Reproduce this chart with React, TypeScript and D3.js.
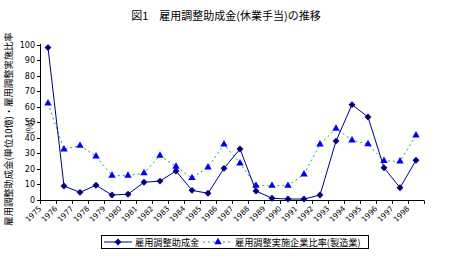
import React from "react";
import * as d3 from "d3";

const years = ["1975","1976","1977","1978","1979","1980","1981","1982","1983","1984","1985","1986","1987","1988","1989","1990","1991","1992","1993","1994","1995","1996","1997","1998"];
const subsidy = [98, 8.7, 4.6, 9.2, 2.9, 3.4, 11.1, 11.9, 18.4, 5.9, 4.0, 20.1, 32.6, 5.5, 0.8, 0.3, 0.3, 2.9, 37.7, 61.2, 53.2, 20.5, 7.6, 25.3];
const ratio = [62, 32.4, 34.7, 27.9, 15.4, 15.4, 17.1, 28.3, 21.2, 13.9, 20.8, 35.6, 23.4, 8.9, 8.9, 8.9, 16.3, 35.6, 45.7, 38.2, 35.8, 25, 24.6, 41.4];
const yTicks = [0, 10, 20, 30, 40, 50, 60, 70, 80, 90, 100];
const title = "図1　雇用調整助成金(休業手当)の推移";
const yTitle1 = "雇用調整助成金(単位10億)・雇用調整実施比率";
const yTitle2 = "(%)";
const legend1 = "雇用調整助成金";
const legend2 = "雇用調整実施企業比率(製造業)";

const W = 454, H = 260;
const NAVY = "#000080";
const BLUE = "#0000FF";
const GREEN = "#339966";
const JP = "'Noto Sans CJK JP', 'Noto Sans', sans-serif";
const NUM = "'DejaVu Sans', 'Liberation Sans', sans-serif";

export default function App() {
  const x = d3.scaleBand<string>().domain(years).range([40, 424]).padding(0);
  const cx = (y: string) => (x(y) as number) + x.bandwidth() / 2;
  const y = d3.scaleLinear().domain([0, 100]).range([199.5, 44.5]);

  const line1 = d3.line<number>().x((_, i) => cx(years[i])).y((d) => y(d))(subsidy) || "";
  const line2 = d3.line<number>().x((_, i) => cx(years[i])).y((d) => y(d))(ratio) || "";
  const diamond = d3.symbol().type(d3.symbolDiamond2).size(30)() || "";
  const tri = d3.symbol().type(d3.symbolTriangle).size(24)() || "";

  const boundaries = years.map((yr) => x(yr) as number).concat([424]);

  return (
    <svg width={W} height={H} style={{ position: "absolute", left: 0, top: 0, background: "#fff" }}>
      <text x={226} y={20} textAnchor="middle" fontFamily={JP} fontSize={11} fill="#000">{title}</text>

      {/* y-axis title */}
      <text transform="translate(12,129) rotate(-90)" textAnchor="middle" fontFamily={JP} fontSize={9.3} fill="#000">{yTitle1}</text>
      <text transform="translate(33,127) rotate(-90)" textAnchor="middle" fontFamily={JP} fontSize={9} fill="#000">{yTitle2}</text>

      {/* y axis */}
      <line x1={40.5} x2={40.5} y1={44} y2={200} stroke="#000" />
      {yTicks.map((t) => (
        <g key={t}>
          <line x1={37} x2={40.5} y1={Math.round(y(t)) + 0.5} y2={Math.round(y(t)) + 0.5} stroke="#000" />
          <text x={35} y={y(t) + 3} textAnchor="end" fontFamily={NUM} fontSize={8} fill="#000">{t}</text>
        </g>
      ))}

      {/* x axis */}
      <line x1={40} x2={424} y1={200.5} y2={200.5} stroke="#000" />
      {boundaries.map((b, i) => (
        <line key={i} x1={Math.round(b) + 0.5} x2={Math.round(b) + 0.5} y1={200.5} y2={204} stroke="#000" />
      ))}
      {years.map((yr) => (
        <text key={yr} transform={`translate(${cx(yr) - 6},${209}) rotate(-45)`} textAnchor="end" fontFamily={NUM} fontSize={7.5} fill="#000">{yr}</text>
      ))}

      {/* series 2: ratio */}
      <path d={line2} fill="none" stroke={GREEN} strokeWidth={1} strokeDasharray="2,3" />
      {ratio.map((v, i) => (
        <path key={i} d={tri} transform={`translate(${cx(years[i])},${y(v)})`} fill={BLUE} />
      ))}

      {/* series 1: subsidy */}
      <path d={line1} fill="none" stroke={NAVY} strokeWidth={1} />
      {subsidy.map((v, i) => (
        <path key={i} d={diamond} transform={`translate(${cx(years[i])},${y(v)})`} fill={NAVY} />
      ))}

      {/* legend */}
      <rect x={101.5} y={235.5} width={267} height={13} fill="#fff" stroke="#000" />
      <line x1={104} x2={132} y1={242} y2={242} stroke={NAVY} />
      <path d={diamond} transform="translate(118,242)" fill={NAVY} />
      <text x={135} y={245.5} fontFamily={JP} fontSize={9.2} fill="#000">{legend1}</text>
      <line x1={203} x2={232} y1={242} y2={242} stroke={GREEN} strokeDasharray="2,3" />
      <path d={tri} transform="translate(218,242)" fill={BLUE} />
      <text x={235} y={245.5} fontFamily={JP} fontSize={9.2} fill="#000">{legend2}</text>
    </svg>
  );
}
